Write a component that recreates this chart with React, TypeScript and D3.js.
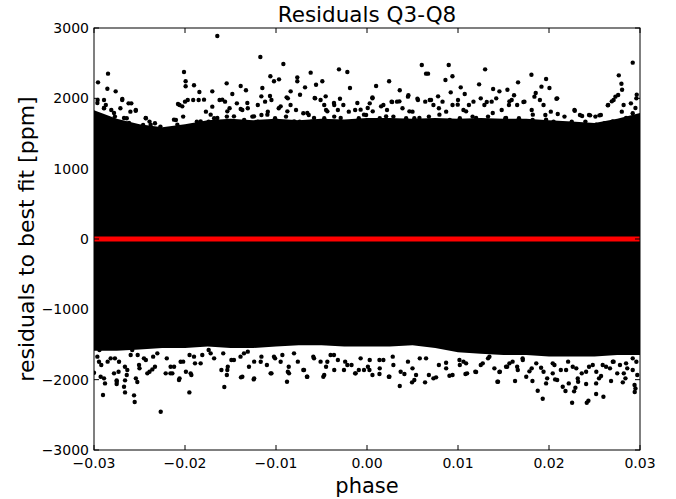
import React from "react";
import * as d3 from "d3";

// ---- data ----
const xTicks = [-0.03, -0.02, -0.01, 0.0, 0.01, 0.02, 0.03];
const yTicks = [-3000, -2000, -1000, 0, 1000, 2000, 3000];

// dense core of the residual cloud: phase grid with upper / lower edge (ppm)
const bandPhase = [
  -0.03, -0.0275, -0.025, -0.0225, -0.02, -0.0175, -0.015, -0.0125, -0.01, -0.0075, -0.005, -0.0025,
  0.0, 0.0025, 0.005, 0.0075, 0.01, 0.0125, 0.015, 0.0175, 0.02, 0.0225, 0.025, 0.0275, 0.03,
];
const bandTop = [
  1830, 1710, 1630, 1590, 1630, 1690, 1710, 1690, 1710, 1690, 1710, 1700,
  1720, 1720, 1710, 1720, 1710, 1720, 1710, 1710, 1690, 1670, 1650, 1710, 1790,
];
const bandBottom = [
  -1590, -1590, -1570, -1550, -1550, -1530, -1550, -1550, -1530, -1510, -1510, -1530,
  -1530, -1530, -1510, -1550, -1610, -1630, -1650, -1650, -1670, -1670, -1670, -1650, -1650,
];

// individual scattered residuals above the core [phase, ppm]
const upperPoints: [number, number][] = [
  [-0.01645, 2886], [-0.01172, 2588], [-0.00919, 2488], [-0.02846, 2351], [-0.02956, 2227], [-0.02011, 2374],
  [-0.00308, 2412], [-0.00216, 2374], [-0.00619, 2365], [-0.01062, 2313], [-0.00967, 2270], [-0.01022, 2242],
  [-0.00766, 2298], [-0.00766, 2242], [-0.00491, 2242], [-0.0056, 2194], [-0.01542, 2213], [-0.01388, 2175],
  [-0.01993, 2242], [-0.01993, 2171], [-0.01901, 2185], [-0.02853, 2137], [-0.02762, 2099], [-0.00187, 2147],
  [-0.00681, 2156], [-0.0115, 2147], [-0.0133, 2114], [-0.017, 2099], [-0.01842, 2090], [-0.00839, 2099],
  [-0.00883, 2014], [-0.00736, 2052], [-0.00575, 2005], [-0.00454, 2028], [-0.00363, 1934], [-0.00297, 1995],
  [-0.00106, 1934], [-0.01066, 2033], [-0.01161, 2028], [-0.0148, 2061], [-0.0159, 1981], [-0.02077, 1919],
  [-0.0203, 1886], [-0.01791, 1981], [-0.02689, 1990], [-0.0259, 1929], [-0.02963, 1934], [-0.0289, 1862],
  [-0.0278, 1791], [-0.02542, 1824], [-0.02432, 1720], [-0.02231, 1531], [-0.02121, 1697], [-0.01315, 1934],
  [-0.01388, 1848], [-0.00949, 1886], [-0.00875, 1815], [-0.00656, 1791], [-0.00436, 1815], [-0.0007, 1839],
  [-0.00033, 1768], [-0.03, 1720], [-0.02927, 1673], [-0.0267, 1720], [-0.02615, 1649], [-0.02469, 1578],
  [-0.02377, 1625], [-0.02304, 1554], [-0.02084, 1625], [-0.01974, 1578], [-0.01828, 1673], [-0.01718, 1768],
  [-0.01645, 1720], [-0.01535, 1815], [-0.01462, 1744], [-0.01242, 1744], [-0.01095, 1768], [-0.008, 1673],
  [-0.00729, 1578], [-0.00582, 1720], [-0.00289, 1720], [-0.0018, 1625],
  [0.00602, 2474], [0.00898, 2474], [0.00649, 2351], [0.00671, 2351], [0.01298, 2412], [0.00939, 2313],
  [0.00862, 2261], [0.0292, 2507], [0.02767, 2327], [0.02796, 2208], [0.02803, 2123], [0.01807, 2336],
  [0.01968, 2275], [0.02005, 2147], [0.0166, 2227], [0.01232, 2199], [0.00243, 2242], [0.001, 2175],
  [0.0006, 2014], [0.0036, 2114], [0.00455, 2043], [0.00554, 1995], [0.00781, 2028], [0.0092, 2085],
  [0.0103, 2156], [0.01074, 2061], [0.01386, 2133], [0.01455, 2099], [0.01543, 2123], [0.01616, 2043],
  [0.01854, 2076], [0.01917, 2166], [0.02082, 1995], [0.0273, 2024], [0.0269, 1957], [0.02646, 1900],
  [0.02964, 2052], [0.0295, 1862], [0.02452, 1758], [0.02283, 1824], [0.02364, 1749], [0.02554, 1758],
  [0.02096, 1777], [0.01719, 1948], [0.01565, 1957], [0.01316, 1948], [0.00997, 1910], [0.00704, 1976],
  [0.00276, 1948], [0.00356, 1957], [0.00155, 1886], [0.00008, 1862], [0.00063, 1815], [0.0021, 1744],
  [0.00466, 1815], [0.00576, 1720], [0.00796, 1768], [0.01089, 1815], [0.01199, 1720], [0.01382, 1791],
  [0.01528, 1720], [0.01822, 1768], [0.01968, 1697], [0.02188, 1625], [0.02334, 1578], [0.02518, 1625],
  [0.027, 1673], [0.02847, 1720], [0.02975, 1673],
  // fringe just above the dense core
  [-0.0296, 1977], [-0.0289, 1977], [-0.0287, 1906], [-0.0289, 1858], [-0.0281, 1835], [-0.0269, 1977],
  [-0.0271, 1858], [-0.0262, 1929], [-0.026, 1811], [-0.0264, 1716], [-0.0277, 1740], [-0.0292, 1740],
  [-0.0285, 1716], [-0.0254, 1835], [-0.0243, 1716], [-0.0239, 1669], [-0.0227, 1598], [-0.0233, 1645],
  [-0.0246, 1621], [-0.021, 1692], [-0.0206, 1906], [-0.02, 1953], [-0.0197, 1977], [-0.0191, 1977],
  [-0.0185, 1977], [-0.0208, 1574], [-0.0197, 1598], [-0.0187, 1669], [-0.0202, 1740], [-0.0177, 1811],
  [-0.017, 1882], [-0.0162, 1977], [-0.0156, 1953], [-0.0168, 1716], [-0.0154, 1740], [-0.0151, 1858],
  [-0.0174, 1669], [-0.0149, 1669], [-0.0143, 1929], [-0.0137, 1835], [-0.0131, 1858], [-0.012, 1906],
  [-0.0112, 1953], [-0.0126, 1740], [-0.0116, 1763], [-0.0109, 1811], [-0.0135, 1692], [-0.012, 1669],
  [-0.0105, 1977], [-0.0097, 1858], [-0.0087, 2000], [-0.0084, 1906], [-0.0078, 1835], [-0.007, 1787],
  [-0.0101, 1716], [-0.0089, 1740], [-0.0074, 1669], [-0.0093, 1645], [-0.0064, 1763], [-0.0057, 2000],
  [-0.0051, 1977], [-0.0047, 1906], [-0.0045, 1835], [-0.0036, 1906], [-0.0032, 1835], [-0.0061, 1669],
  [-0.0047, 1716], [-0.0036, 1740], [-0.0026, 1906], [-0.002, 1811], [-0.0013, 1835], [-0.0009, 1716],
  [0.0003, 1929], [0.0006, 2000], [-0.0001, 1763], [-0.0015, 1669], [0.0014, 1716], [0.0022, 1835],
  [0.0027, 1953], [0.0033, 1953], [0.0039, 1858], [0.0045, 2024], [0.0018, 1906], [0.0029, 1740],
  [0.0043, 1716], [0.005, 1811], [0.0056, 1977], [0.0064, 1953], [0.0069, 1977], [0.0073, 1906],
  [0.0079, 1858], [0.0083, 1953], [0.0052, 1716], [0.0068, 1740], [0.0077, 1669], [0.0087, 1811],
  [0.0094, 1906], [0.01, 1977], [0.0106, 1835], [0.0112, 1906], [0.0117, 1953], [0.0091, 1692],
  [0.0102, 1716], [0.0116, 1740], [0.0125, 2000], [0.0129, 1906], [0.0137, 1953], [0.0142, 2000],
  [0.0148, 1835], [0.0156, 1906], [0.0159, 1977], [0.0133, 1740], [0.0152, 1716], [0.0165, 1906],
  [0.0173, 1953], [0.0181, 1835], [0.0184, 2024], [0.019, 1977], [0.0194, 1906], [0.0167, 1716],
  [0.0182, 1692], [0.0196, 1763], [0.0202, 1811], [0.0209, 2000], [0.0217, 1740], [0.0228, 1835],
  [0.0234, 1763], [0.0205, 1669], [0.0225, 1669], [0.0244, 1763], [0.0251, 1740], [0.0257, 1763],
  [0.0265, 1906], [0.0271, 1977], [0.024, 1669], [0.0261, 1645], [0.0276, 2048], [0.0282, 1906],
  [0.029, 1929], [0.0296, 2000], [0.028, 1811], [0.0292, 1787], [0.0297, 1716],
];

// individual scattered residuals below the core [phase, ppm]
const lowerPoints: [number, number][] = [
  [-0.02267, -2456], [-0.02553, -2318], [-0.0256, -2223], [-0.02901, -2219], [-0.02659, -2181], [-0.01952, -2181],
  [-0.01568, -2105], [-0.02879, -2053], [-0.02751, -2062], [-0.02659, -2010], [-0.02524, -2034], [-0.01385, -1967],
  [-0.01245, -1996], [-0.00879, -2029], [-0.02751, -2010], [-0.02927, -1958], [-0.03, -1901], [-0.02066, -2005],
  [-0.02212, -1910], [-0.02139, -1910], [-0.02359, -1854], [-0.02414, -1910], [-0.01938, -1910], [-0.01535, -1863],
  [-0.01297, -1816], [-0.01059, -1910], [-0.00857, -1910], [-0.00656, -1958], [-0.0048, -1958], [-0.00253, -1863],
  [-0.00125, -1910], [-0.00033, -1863], [-0.00692, -1863], [-0.02634, -1863], [-0.0278, -1910], [-0.02945, -1745],
  [-0.02725, -1745], [-0.02505, -1792], [-0.02158, -1816], [-0.01828, -1768], [-0.01168, -1745], [-0.00949, -1745],
  [-0.00436, -1745], [-0.00216, -1792], [-0.02963, -1673], [-0.02817, -1697], [-0.02597, -1650], [-0.02451, -1697],
  [-0.02304, -1626], [-0.02048, -1745], [-0.01901, -1673], [-0.01718, -1626], [-0.01462, -1721], [-0.01352, -1626],
  [-0.01022, -1673], [-0.00802, -1626], [-0.00582, -1697], [-0.00363, -1650], [-0.0007, -1697],
  [0.01931, -2271], [0.02254, -2328], [0.02415, -2328], [0.02433, -2299], [0.02598, -2242], [0.02518, -2204],
  [0.01876, -2157], [0.02181, -2162], [0.02276, -2166], [0.0229, -2114], [0.02942, -2176], [0.0295, -2124],
  [0.0036, -2091], [0.00495, -2038], [0.00638, -2038], [0.01433, -2029], [0.01627, -2019], [0.01818, -2019],
  [0.01968, -2053], [0.02067, -1996], [0.02151, -2100], [0.02217, -2053], [0.02408, -2062], [0.02518, -2053],
  [0.02682, -2019], [0.02811, -2038], [0.00246, -1958], [0.00137, -1920], [0.00411, -1920], [0.00539, -1934],
  [0.00759, -1967], [0.00906, -1944], [0.01082, -1920], [0.01199, -1891], [0.01455, -1891], [0.01657, -1863],
  [0.01785, -1882], [0.01913, -1830], [0.02041, -1910], [0.02316, -1982], [0.02572, -1948], [0.02701, -1745],
  [0.02822, -1910], [0.0292, -1863], [0.00869, -1759], [0.01089, -1768], [0.01272, -1768], [0.01528, -1816],
  [0.02188, -1863], [0.02408, -1887], [0.00027, -1863], [0.00137, -1721], [0.00283, -1673], [0.00649, -1697],
  [0.01016, -1721], [0.01345, -1673], [0.01565, -1768], [0.01712, -1721], [0.02041, -1768], [0.02261, -1816],
  [0.02481, -1792], [0.02627, -1816], [0.02847, -1768], [0.0296, -1745],
  // fringe just below the dense core
  [-0.0294, -1579], [-0.0285, -1744], [-0.0277, -1697], [-0.0292, -1792], [-0.0273, -1887], [-0.0289, -1981],
  [-0.0266, -1816], [-0.0264, -1934], [-0.0275, -2029], [-0.0267, -2100], [-0.0258, -1579], [-0.0252, -1650],
  [-0.0243, -1721], [-0.0235, -1673], [-0.025, -1839], [-0.0239, -1887], [-0.0233, -1816], [-0.0254, -1981],
  [-0.022, -1697], [-0.0212, -1816], [-0.0202, -1744], [-0.0195, -1650], [-0.0189, -1768], [-0.0216, -1910],
  [-0.0206, -1981], [-0.0199, -1887], [-0.0193, -1934], [-0.0181, -1650], [-0.0174, -1579], [-0.0168, -1697],
  [-0.0158, -1626], [-0.0153, -1816], [-0.0149, -1721], [-0.016, -1863], [-0.0154, -1934], [-0.0139, -1673],
  [-0.0131, -1602], [-0.0124, -1744], [-0.0116, -1673], [-0.011, -1792], [-0.0137, -1958], [-0.0124, -1981],
  [-0.0105, -1910], [-0.0101, -1697], [-0.0093, -1650], [-0.0086, -1816], [-0.0076, -1744], [-0.007, -1863],
  [-0.0087, -1887], [-0.0066, -1958], [-0.0059, -1673], [-0.0051, -1744], [-0.0045, -1816], [-0.004, -1650],
  [-0.0032, -1721], [-0.0047, -1934], [-0.0036, -1863], [-0.0024, -1744], [-0.0017, -1792], [-0.0009, -1863],
  [0.0001, -1816], [0.0006, -1934], [-0.0013, -1910], [0.0003, -1721], [0.0014, -1839], [0.0024, -1958],
  [0.0029, -1792], [0.0037, -1887], [0.0045, -1744], [0.0018, -1721], [0.005, -1839], [0.0058, -1697],
  [0.0068, -1934], [0.0073, -1981], [0.0079, -1792], [0.0052, -2005], [0.0087, -1839], [0.0094, -1934],
  [0.0102, -1792], [0.011, -1910], [0.0119, -1887], [0.0106, -1744], [0.0125, -1792], [0.0133, -1697],
  [0.014, -1839], [0.0146, -1887], [0.0154, -1816], [0.016, -1744], [0.0144, -2029], [0.0165, -1816],
  [0.0171, -1697], [0.0181, -1839], [0.0186, -1768], [0.0194, -1887], [0.0175, -1958], [0.0198, -1981],
  [0.0206, -1792], [0.0213, -1863], [0.0221, -1744], [0.023, -1839], [0.0236, -1910], [0.0209, -2005],
  [0.0232, -2029], [0.0244, -1816], [0.0252, -1887], [0.0259, -1792], [0.0267, -1839], [0.0275, -1910],
  [0.0255, -1981], [0.0271, -1744], [0.0278, -1792], [0.0286, -1839], [0.0292, -1697], [0.0297, -1934],
  [0.0284, -1981], [0.0294, -2076],
];

const fitValue = 0; // best-fit residual level (ppm)

const W = 676;
const H = 499;
const L = 94, R = 640, T = 28, B = 450;
const FONT = "'DejaVu Sans', sans-serif";

export default function App() {
  const x = d3.scaleLinear().domain([-0.03, 0.03]).range([L, R]);
  const y = d3.scaleLinear().domain([-3000, 3000]).range([B, T]);
  const fmtX = d3.format(".2f");
  const fmtY = d3.format("d");

  const area = d3
    .area<number>()
    .x((d) => x(d))
    .y0((_, i) => y(bandBottom[i]))
    .y1((_, i) => y(bandTop[i]));
  const bandPath = area(bandPhase) || "";
  const allPts = [...upperPoints, ...lowerPoints];
  const tickLen = 5;

  return (
    <svg
      width={W}
      height={H}
      style={{ position: "absolute", left: 0, top: 0, background: "#fff" }}
      fontFamily={FONT}
    >
      <defs>
        <clipPath id="plotClip">
          <rect x={L} y={T} width={R - L} height={B - T} />
        </clipPath>
      </defs>
      <rect x={0} y={0} width={W} height={H} fill="#fff" />
      <g clipPath="url(#plotClip)">
        <path d={bandPath} fill="#000" />
        {allPts.map((p, i) => (
          <circle key={i} cx={x(p[0])} cy={y(p[1])} r={2.2} fill="#000" />
        ))}
        <line x1={L} x2={R} y1={y(fitValue)} y2={y(fitValue)} stroke="#ff0000" strokeWidth={5} />
      </g>
      {/* ticks, inside on all sides */}
      {xTicks.map((t) => (
        <g key={"x" + t}>
          <line x1={x(t)} x2={x(t)} y1={B} y2={B - tickLen} stroke="#000" strokeWidth={1} />
          <line x1={x(t)} x2={x(t)} y1={T} y2={T + tickLen} stroke="#000" strokeWidth={1} />
          <text x={x(t)} y={468} fontSize={14} textAnchor="middle" fill="#000">
            {fmtX(t)}
          </text>
        </g>
      ))}
      {yTicks.map((t) => (
        <g key={"y" + t}>
          <line x1={L} x2={L + tickLen} y1={y(t)} y2={y(t)} stroke="#000" strokeWidth={1} />
          <line x1={R} x2={R - tickLen} y1={y(t)} y2={y(t)} stroke="#000" strokeWidth={1} />
          <text x={89} y={y(t)} dy="0.36em" fontSize={14} textAnchor="end" fill="#000">
            {fmtY(t)}
          </text>
        </g>
      ))}
      <rect x={L} y={T} width={R - L} height={B - T} fill="none" stroke="#000" strokeWidth={1} />
      <text x={(L + R) / 2} y={22} fontSize={21.5} textAnchor="middle" fill="#000">
        Residuals Q3-Q8
      </text>
      <text x={(L + R) / 2} y={493} fontSize={21} textAnchor="middle" fill="#000">
        phase
      </text>
      <text
        transform={`translate(34, ${(T + B) / 2}) rotate(-90)`}
        fontSize={22}
        textAnchor="middle"
        fill="#000"
      >
        residuals to best fit [ppm]
      </text>
    </svg>
  );
}
